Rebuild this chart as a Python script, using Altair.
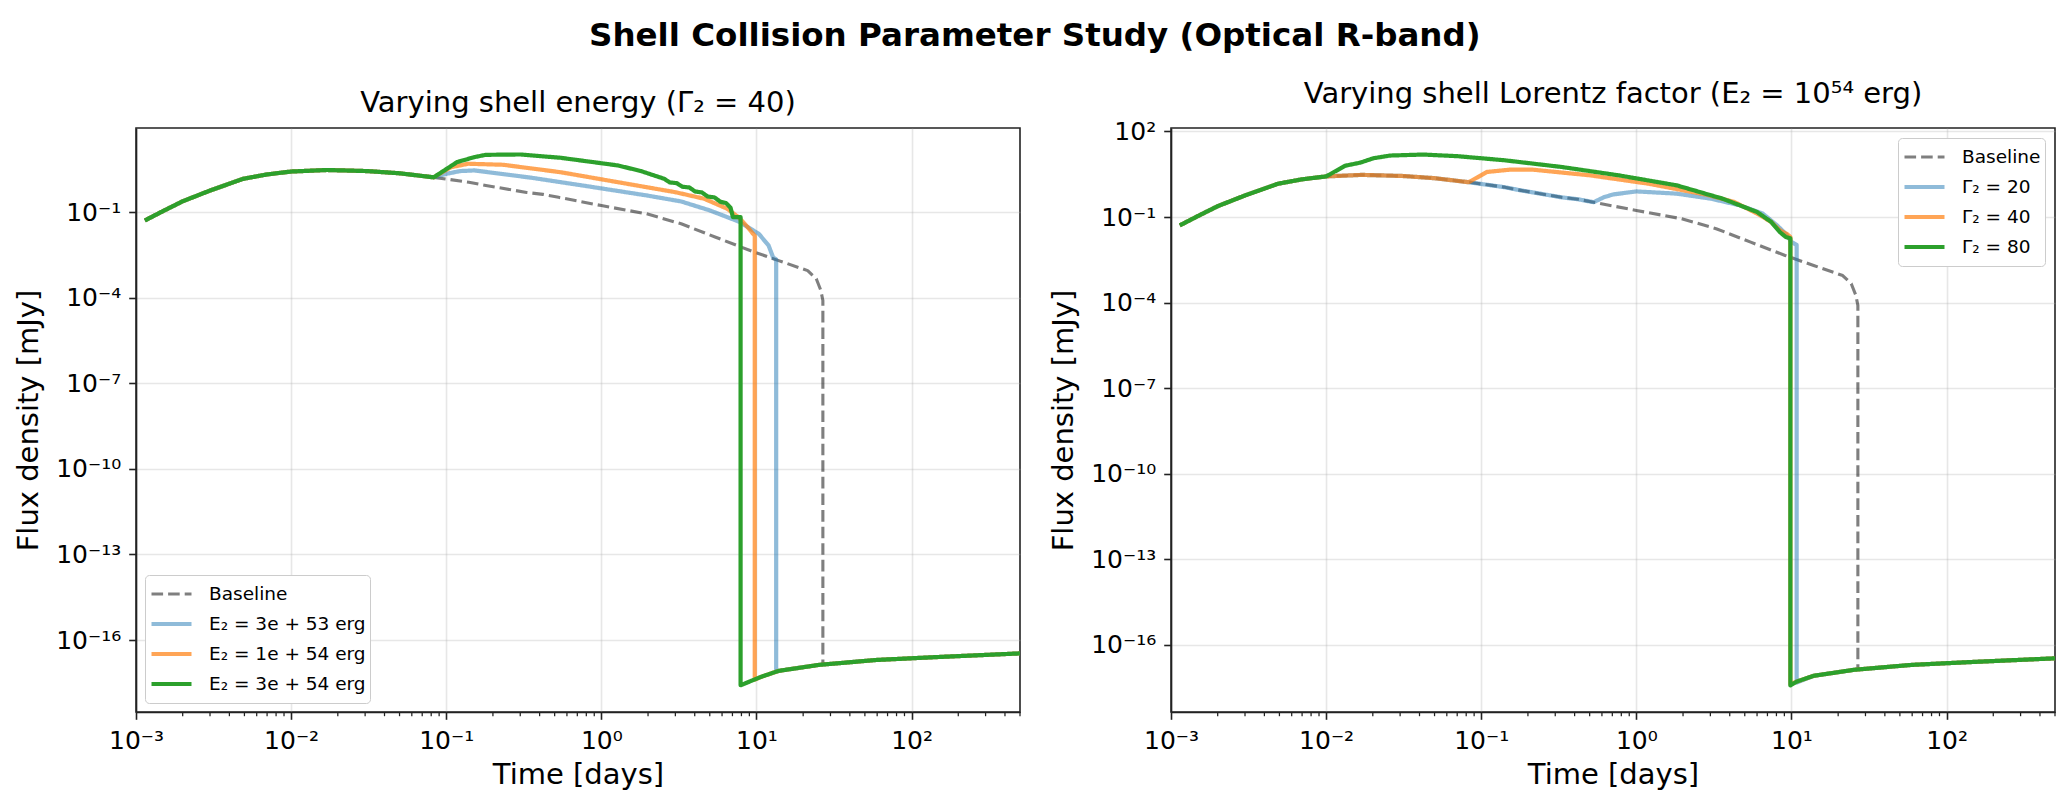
import altair as alt
import pandas as pd

FONT = "DejaVu Sans"

# ---- light-curve samples (time in days, flux density in mJy) ----
# forward-shock rise shared by every run before the second shell arrives
T_EARLY = [1.14e-3, 1.5e-3, 2.0e-3, 3.0e-3, 4.9e-3, 7.0e-3, 1.0e-2, 1.7e-2, 3.1e-2, 5.0e-2, 8.3e-2]
F_EARLY = [0.051, 0.11, 0.24, 0.57, 1.47, 2.1, 2.65, 3.0, 2.75, 2.3, 1.66]

# single-shell baseline after the early rise (drops out near 27 d)
T_BASE = [0.14, 0.18, 0.33, 0.42, 0.53, 1.0, 1.96, 3.27, 5.46, 9.1, 13.9, 21.4,
          24.3, 26.0, 26.8, 26.8]
F_BASE = [1.12, 0.86, 0.49, 0.42, 0.33, 0.17, 0.087, 0.039, 0.0132, 4.5e-3, 2.0e-3,
          8.9e-4, 4.6e-4, 1.8e-4, 8e-5, 1.4e-17]

# late-time floor reached after the cut-off
T_TAIL = [10.8, 13.9, 25.4, 59.4, 139, 500]
F_TAIL = [5.2e-18, 8.3e-18, 1.35e-17, 2.0e-17, 2.5e-17, 3.4e-17]

# left panel: shell energy runs (Gamma_2 = 40)
T_E3E53 = [0.1, 0.123, 0.152, 0.356, 0.836, 1.96, 3.27, 5.0, 7.67, 10.35, 11.97, 12.8, 13.4, 13.4]
F_E3E53 = [2.2, 2.75, 2.9, 1.6, 0.79, 0.385, 0.237, 0.115, 0.047, 0.0174, 6.8e-3, 2.6e-3, 2.2e-3, 7.8e-18]

T_E1E54 = [0.108, 0.139, 0.233, 0.546, 1.28, 3.0, 4.6, 6.47, 7.67, 8.7, 9.5, 9.75, 9.75]
F_E1E54 = [3.8, 4.97, 4.57, 2.51, 1.12, 0.50, 0.295, 0.132, 0.066, 0.0316, 0.0174, 0.015, 4.1e-18]

T_E3E54 = [0.1175, 0.152, 0.18, 0.30, 0.546, 1.28, 1.80, 2.54, 2.76, 3.06, 3.33, 3.69, 4.02,
           4.45, 4.84, 5.37, 5.85, 6.37, 6.81, 7.05, 7.9, 7.9]
F_E3E54 = [5.68, 8.5, 10.2, 10.5, 8.05, 4.33, 2.75, 1.48, 1.10, 1.04, 0.775, 0.734, 0.531,
           0.49, 0.355, 0.327, 0.231, 0.207, 0.142, 0.067, 0.067, 2.6e-18]

# right panel: shell Lorentz factor runs (E_2 = 1e54 erg)
T_G20 = [0.62, 0.711, 1.0, 1.82, 3.02, 4.65, 6.53, 8.07, 9.18, 10.0, 10.8, 10.8]
F_G20 = [0.5, 0.62, 0.79, 0.66, 0.44, 0.257, 0.132, 0.051, 0.026, 0.0133, 0.0105, 4.8e-18]

T_G40 = [0.109, 0.153, 0.215, 0.506, 1.19, 2.78, 4.27, 6.0, 7.41, 8.43, 9.4, 9.84, 9.84]
F_G40 = [3.8, 4.57, 4.57, 2.88, 1.48, 0.617, 0.339, 0.132, 0.067, 0.034, 0.025, 0.02, 4.2e-18]

T_G80 = [0.0133, 0.0166, 0.0202, 0.0259, 0.0425, 0.0711, 0.141, 0.33, 0.774, 1.82, 3.6,
         6.0, 7.41, 8.43, 9.18, 9.84, 9.84]
F_G80 = [6.3, 8.05, 11.5, 14.3, 15.5, 13.5, 9.77, 5.68, 2.88, 1.29, 0.44, 0.15, 0.067,
         0.0295, 0.02, 0.018, 3.8e-18]

LEFT_NAMES = ["Baseline", "E₂ = 3e + 53 erg", "E₂ = 1e + 54 erg", "E₂ = 3e + 54 erg"]
RIGHT_NAMES = ["Baseline", "Γ₂ = 20", "Γ₂ = 40", "Γ₂ = 80"]
# gray baseline, then tab:blue / tab:orange / tab:green with their line alphas
COLORS = ["rgba(0,0,0,0.5)", "rgba(31,119,180,0.5)", "rgba(255,127,14,0.7)", "rgba(44,160,44,1)"]
WIDTHS = [3.1, 4.2, 4.2, 4.2]
DASHES = [[11.6, 5.0], [1, 0], [1, 0], [1, 0]]

X_TICKS = [1e-3, 1e-2, 1e-1, 1e0, 1e1, 1e2]
Y_TICKS_LEFT = [1e-16, 1e-13, 1e-10, 1e-7, 1e-4, 1e-1]
Y_TICKS_RIGHT = [1e-16, 1e-13, 1e-10, 1e-7, 1e-4, 1e-1, 1e2]
X_LABELS = ["10⁻³", "10⁻²", "10⁻¹", "10⁰", "10¹", "10²"]
Y_LABELS_RIGHT = ["10⁻¹⁶", "10⁻¹³", "10⁻¹⁰", "10⁻⁷", "10⁻⁴", "10⁻¹", "10²"]
Y_LABELS_LEFT = Y_LABELS_RIGHT[:-1]

X_DOMAIN = [1e-3, 500]
Y_DOMAIN_LEFT = [3.0e-19, 89]
Y_DOMAIN_RIGHT = [4.47e-19, 132]

# log-axis minor ticks between decades
MINOR_X = [k * 10.0 ** e for e in range(-3, 3) for k in range(2, 10) if k * 10.0 ** e <= 500]

W, H = 884, 584


def tail_after(t_drop):
    return ([t for t in T_TAIL if t > t_drop], [f for t, f in zip(T_TAIL, F_TAIL) if t > t_drop])


def rows_for(name, ts, fs):
    return [{"t": t, "F": f, "series": name, "i": k} for k, (t, f) in enumerate(zip(ts, fs))]


def with_tail(ts, fs):
    tt, tf = tail_after(ts[-1])
    return ts + tt, fs + tf


def label_expr(values, labels):
    expr = "'" + labels[-1] + "'"
    for v, lab in reversed(list(zip(values[:-1], labels[:-1]))):
        expr = f"datum.value < {v * 1.5!r} ? '{lab}' : ({expr})"
    return expr


base_t, base_f = with_tail(T_EARLY + T_BASE, F_EARLY + F_BASE)

left_rows = (
    rows_for(LEFT_NAMES[0], base_t, base_f)
    + rows_for(LEFT_NAMES[1], *with_tail(T_EARLY + T_E3E53, F_EARLY + F_E3E53))
    + rows_for(LEFT_NAMES[2], *with_tail(T_EARLY + T_E1E54, F_EARLY + F_E1E54))
    + rows_for(LEFT_NAMES[3], *with_tail(T_EARLY + T_E3E54, F_EARLY + F_E3E54))
)

pre_g20_t = T_EARLY + [t for t in T_BASE if t <= 0.53]
pre_g20_f = F_EARLY + [f for t, f in zip(T_BASE, F_BASE) if t <= 0.53]
pre_g80_t = [t for t in T_EARLY if t <= 0.0101]
pre_g80_f = [f for t, f in zip(T_EARLY, F_EARLY) if t <= 0.0101]

right_rows = (
    rows_for(RIGHT_NAMES[0], base_t, base_f)
    + rows_for(RIGHT_NAMES[1], *with_tail(pre_g20_t + T_G20, pre_g20_f + F_G20))
    + rows_for(RIGHT_NAMES[2], *with_tail(T_EARLY + T_G40, F_EARLY + F_G40))
    + rows_for(RIGHT_NAMES[3], *with_tail(pre_g80_t + T_G80, pre_g80_f + F_G80))
)


def panel(rows, names, y_domain, y_ticks, y_labels, title, legend_orient, legend_offset):
    df = pd.DataFrame(rows)
    x_scale = alt.Scale(type="log", domain=X_DOMAIN, nice=False)
    y_scale = alt.Scale(type="log", domain=y_domain, nice=False)
    x_axis = alt.Axis(
        values=X_TICKS, labelExpr=label_expr(X_TICKS, X_LABELS), title="Time [days]",
        labelPadding=9, titleX=W / 2, titleY=71, titleAlign="center",
        titleBaseline="alphabetic", titleAngle=0, labelFlush=False, labelOverlap=False,
    )
    y_axis = alt.Axis(
        values=y_ticks, labelExpr=label_expr(y_ticks, y_labels), title="Flux density [mJy]",
        labelPadding=8, titleX=-99, titleY=H / 2, titleAngle=270, titleAlign="center",
        titleBaseline="alphabetic", labelFlush=False, labelOverlap=False,
    )
    legend = alt.Legend(
        title=None, orient=legend_orient, offset=legend_offset, symbolType="stroke",
        symbolSize=1600, clipHeight=30, rowPadding=0, labelFont=FONT, labelFontSize=18.5,
        labelColor="black", labelOffset=15, padding=4, strokeColor="#cccccc",
        fillColor="white", cornerRadius=4, labelLimit=0,
    )
    enc = dict(
        x=alt.X("t:Q", scale=x_scale, axis=x_axis),
        y=alt.Y("F:Q", scale=y_scale, axis=y_axis),
        order=alt.Order("i:Q"),
        color=alt.Color("series:N", scale=alt.Scale(domain=names, range=COLORS), legend=legend),
        strokeDash=alt.StrokeDash("series:N", scale=alt.Scale(domain=names, range=DASHES), legend=legend),
        strokeWidth=alt.StrokeWidth("series:N", scale=alt.Scale(type="ordinal", domain=names, range=WIDTHS),
                                    legend=legend),
    )
    lines = [
        alt.Chart(df)
        .mark_line(clip=True, strokeJoin="round", strokeCap="butt")
        .encode(**enc)
        .transform_filter(alt.datum.series == name)
        for name in names
    ]
    minor = (
        alt.Chart(pd.DataFrame({"t": MINOR_X}))
        .mark_rule(color="#222222", strokeWidth=1.25)
        .encode(x=alt.X("t:Q", scale=x_scale, axis=x_axis), y=alt.value(H), y2=alt.value(H + 4.2))
    )
    return alt.layer(*lines, minor).properties(
        width=W, height=H,
        title=alt.TitleParams(title, font=FONT, fontSize=29, fontWeight="normal",
                              color="black", anchor="middle", offset=10),
    )


left = panel(left_rows, LEFT_NAMES, Y_DOMAIN_LEFT, Y_TICKS_LEFT, Y_LABELS_LEFT,
             "Varying shell energy (Γ₂ = 40)", "bottom-left", 9)
right = panel(right_rows, RIGHT_NAMES, Y_DOMAIN_RIGHT, Y_TICKS_RIGHT, Y_LABELS_RIGHT,
              "Varying shell Lorentz factor (E₂ = 10⁵⁴ erg)", "top-right", 10)

chart = (
    alt.hconcat(left, right, spacing=151, bounds="flush")
    .resolve_scale(x="independent", y="independent", color="independent",
                   strokeDash="independent", strokeWidth="independent")
    .resolve_legend(color="independent", strokeDash="independent", strokeWidth="independent")
    .properties(
        title=alt.TitleParams("Shell Collision Parameter Study (Optical R-band)", font=FONT,
                              fontSize=32.5, fontWeight="bold", color="black",
                              anchor="middle", offset=27),
        autosize=alt.AutoSizeParams(type="none"),
        padding={"left": 136, "top": 128, "right": 1934, "bottom": 677},
        background="white",
    )
    .configure_view(stroke="#222222", strokeWidth=1.6)
    .configure_axis(
        labelFont=FONT, labelFontSize=25, labelColor="black",
        titleFont=FONT, titleFontSize=29, titleFontWeight="normal", titleColor="black",
        tickColor="#222222", tickWidth=1.6, tickSize=7.3,
        domainColor="#222222", domainWidth=1.6,
        gridColor="#b0b0b0", gridOpacity=0.3, gridWidth=1.6,
    )
)

chart.save("out.html", embed_options={"renderer": "svg", "actions": False})
